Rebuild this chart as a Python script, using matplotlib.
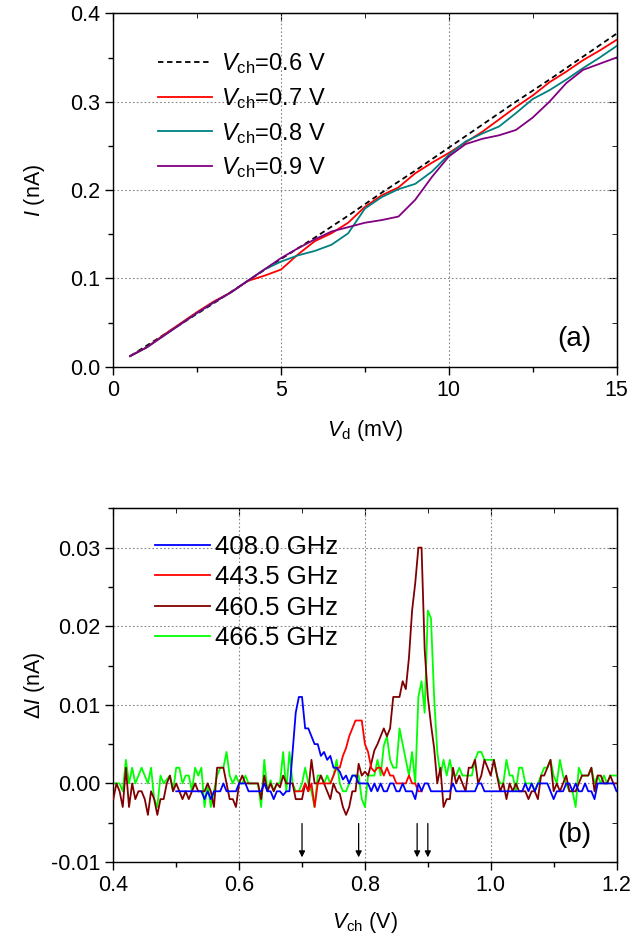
import matplotlib
matplotlib.use("Agg")
import matplotlib.pyplot as plt
import numpy as np
from matplotlib.ticker import MultipleLocator, FormatStrFormatter

plt.rcParams['font.family'] = ['Liberation Sans', 'DejaVu Sans']
plt.rcParams['mathtext.fontset'] = 'custom'
plt.rcParams['mathtext.rm'] = 'Liberation Sans'
plt.rcParams['mathtext.it'] = 'Liberation Sans:italic'
plt.rcParams['axes.unicode_minus'] = False

# ---- panel (a): I-V curves ----
vd_dash = [0.5, 1, 2, 3, 4, 5, 6, 7, 8, 9, 10, 11, 12, 13, 14, 15]
i_06 = [0.012, 0.024, 0.048, 0.072, 0.097, 0.122, 0.146, 0.171, 0.197, 0.222,
        0.248, 0.274, 0.300, 0.325, 0.351, 0.377]

vd = [0.5, 1, 1.5, 2, 2.5, 3, 3.5, 4, 4.5, 5, 5.5, 6, 6.5, 7, 7.5,
      8, 8.5, 9, 9.5, 10, 10.5, 11, 11.5, 12, 12.5, 13, 13.5, 14, 14.5, 15]
i_07 = [0.012, 0.022, 0.036, 0.049, 0.062, 0.074, 0.084, 0.097, 0.103, 0.110,
        0.127, 0.142, 0.151, 0.163, 0.181, 0.194, 0.203, 0.219, 0.231, 0.242,
        0.254, 0.266, 0.280, 0.294, 0.307, 0.322, 0.334, 0.347, 0.358, 0.370]
i_08 = [0.012, 0.022, 0.035, 0.048, 0.061, 0.073, 0.084, 0.097, 0.110, 0.119,
        0.126, 0.131, 0.138, 0.151, 0.179, 0.192, 0.201, 0.207, 0.221, 0.240,
        0.255, 0.264, 0.272, 0.287, 0.303, 0.313, 0.325, 0.338, 0.350, 0.363]
i_09 = [0.012, 0.022, 0.035, 0.048, 0.061, 0.073, 0.084, 0.097, 0.110, 0.123,
        0.134, 0.144, 0.153, 0.158, 0.163, 0.166, 0.170, 0.189, 0.215, 0.238,
        0.252, 0.258, 0.262, 0.268, 0.282, 0.300, 0.321, 0.336, 0.343, 0.350]

# ---- panel (b): photoresponse, values in pA ----
vch_full = [0.400, 0.405, 0.410, 0.415, 0.420, 0.425, 0.430, 0.435, 0.440, 0.445,
            0.450, 0.455, 0.460, 0.465, 0.470, 0.475, 0.480, 0.485, 0.490, 0.495,
            0.500, 0.505, 0.510, 0.515, 0.520, 0.525, 0.530, 0.535, 0.540, 0.545,
            0.550, 0.555, 0.560, 0.565, 0.570, 0.575, 0.580, 0.585, 0.590, 0.595,
            0.600, 0.605, 0.610, 0.615, 0.620, 0.625, 0.630, 0.635, 0.640, 0.645,
            0.650, 0.655, 0.660, 0.665, 0.670, 0.675, 0.680, 0.685, 0.690, 0.695,
            0.700, 0.705, 0.710, 0.715, 0.720, 0.725, 0.730, 0.735, 0.740, 0.745,
            0.750, 0.755, 0.760, 0.765, 0.770, 0.775, 0.780, 0.785, 0.790, 0.795,
            0.800, 0.805, 0.810, 0.815, 0.820, 0.825, 0.830, 0.835, 0.840, 0.845,
            0.850, 0.855, 0.860, 0.865, 0.870, 0.875, 0.880, 0.885, 0.890, 0.895,
            0.900, 0.905, 0.910, 0.915, 0.920, 0.925, 0.930, 0.935, 0.940, 0.945,
            0.950, 0.955, 0.960, 0.965, 0.970, 0.975, 0.980, 0.985, 0.990, 0.995,
            1.000, 1.005, 1.010, 1.015, 1.020, 1.025, 1.030, 1.035, 1.040, 1.045,
            1.050, 1.055, 1.060, 1.065, 1.070, 1.075, 1.080, 1.085, 1.090, 1.095,
            1.100, 1.105, 1.110, 1.115, 1.120, 1.125, 1.130, 1.135, 1.140, 1.145,
            1.150, 1.155, 1.160, 1.165, 1.170, 1.175, 1.180, 1.185, 1.190, 1.195,
            1.200]

# 408.0 GHz: measured from 0.500 V
di_408 = [-1, -1, -1, -1, -1, -1, -1, -1, -1, -2,
          -1, -2, -1, -1, -1, 0, -1, -1, -1, -1,
          0, 0, 0, -1, -1, -1, -1, -1, 0, -1,
          -1, -2, -1, -1, -1.5, -1, -1, 4, 9, 11,
          11, 7, 7, 6, 5, 5, 3.5, 4, 3, 3.5,
          2, 2, 1.5, 0.5, 1, 0, 1, 1, 0, 0,
          0, 0, -1, 0, -1, 0, -1, -1, 0, 0,
          -1, -1, 0, -1, -1, -1, -2, 0, -1, 0,
          0, -1, -1, -1, -1, -1, -1, -1, 0, -1,
          -1, -1, -1, -1, -1, -1, 0, 0, -1, -1,
          -1, -1, -1, -1, -1, -1, -1, -1, -1, -1,
          -1, 0, -1, 0, -1, 0, 0, 0, 0, -1,
          -2, -1, -1, -1, 0, 0, -1, 0, -1, -1,
          0, -1, -1, -2, 0, 0, 0, 0, 0, 0,
          -1]

# 443.5 GHz: measured from 0.690 V to 0.890 V
di_443 = [-1, -1, -1, 0, -1, 0, -3, 0, 0, 0,
          0, 0, 1, 2, 2, 3.5, 4.5, 6, 7, 8,
          8, 8, 5, 4, 2, 1.5, 2, 2, 1, 2,
          1, 1, 0, 0, 0, 0, 1, 0, 0, -1,
          -1]

di_460 = [-2, 0, -1, -3, 2, -3, 0, -2, -1, -1,
          -2, -4, -1, -2, -4, -2, -2, 0, 1, -1,
          0, -1, -2, -1, -2, -1, 0, -1, -1, -1,
          0, -1, -3, 2, 2, 2, 0, -2, -2, -3,
          0, 1, 0, 0, 0, 0, 0, -2, 1, -1,
          0, -1, 0, -0.5, 1, 0, 0, 0, -2, -2,
          -2, 0, -1, 3, 0, 0, 1, 0, -1, -2,
          0, -1, -1.3, -3, -4, -3, -1, -1, 2.5, 1,
          1.5, 1, 2.5, 4.2, 5, 6, 7, 6, 7, 11,
          11, 11, 13, 12, 16, 22, 25.5, 30, 30, 17,
          11, 7.5, 4.5, 0, 2, -3, -2, -2, 2, 0,
          1, 0, -1, 2, 2, 3, 0, 1, 3, 2,
          1, 3, 1, -1, 0, -2, 0, -1, 0, -1,
          -1, -1, -2, -1, -1, -2, 1, 1, 2, 3,
          -1, 0, -1, 0, 1, -1, -1, -1, 0, 1,
          1, 1, 2, -1, 1, 1, 0, 0, 1, 0,
          0]

di_466 = [0, 0, 0, -1, 3, 0, 2, 0, 1, 2,
          1, 0, 2, -2, -3, 1, 0, 0.5, 1, -1,
          2, 2, 0, 1, 1, -1, 2, 1, 2, -3,
          0, -3, -1, 1, 2, 2, 4, 1, 0, 1,
          0, 0, 1, 0, 0, 0, 0, -3, 3, -1,
          0.4, -1, 0, 0, 4, -1, 4, 0, -1, -1,
          0, 2, 0, -1, -3, 1, 1, 0, 1, 0,
          1, 3, 0, -1, -1, 0, 1, 1, 1, -2,
          -3, 1, 1, 1, 3, 1, 4.8, 6, 3, 2,
          2, 7, 5, 3, 1, 4, 0, 11, 13, 9,
          22, 21, 11, 4, 1, 3, 1, 3, 1, 1,
          2, 1, 1, 1, 1, 3, 4, 4, 3, 3,
          3, 3, 1, 0, 0, 3, 1, 1, -1, 2,
          2, 0, 0, 0, -1, 0, 1, 2, 2, 3,
          1, 0, 3, 1, 0, -1, -1, -3, 2, 1,
          1, 1, 2, 0, 1, 0, 1, 0, 1, 1,
          1]

arrow_v = [0.70, 0.79, 0.883, 0.90]

fig = plt.figure(figsize=(6.33, 9.42), dpi=100)
ax1 = fig.add_axes([0.179, 0.6107, 0.795, 0.3751])
ax2 = fig.add_axes([0.179, 0.0849, 0.795, 0.3755])

FS = 15.5


def style_axes(ax, xmaj, xmin, ymaj, ymin):
    ax.xaxis.set_major_locator(MultipleLocator(xmaj))
    ax.xaxis.set_minor_locator(MultipleLocator(xmin))
    ax.yaxis.set_major_locator(MultipleLocator(ymaj))
    ax.yaxis.set_minor_locator(MultipleLocator(ymin))
    ax.tick_params(which='major', direction='out', length=6, width=1, labelsize=FS)
    ax.tick_params(which='minor', direction='out', length=3.5, width=1)
    ax.grid(True, which='major', linestyle=(0, (1.5, 2)), color='#888888', lw=0.8)
    for s in ax.spines.values():
        s.set_linewidth(1.0)
    # mirrored inward ticks on top and right
    top = ax.secondary_xaxis('top')
    top.xaxis.set_major_locator(MultipleLocator(xmaj))
    top.xaxis.set_minor_locator(MultipleLocator(xmin))
    top.tick_params(which='major', direction='in', length=6, labeltop=False)
    top.tick_params(which='minor', direction='in', length=3.5)
    right = ax.secondary_yaxis('right')
    right.yaxis.set_major_locator(MultipleLocator(ymaj))
    right.yaxis.set_minor_locator(MultipleLocator(ymin))
    right.tick_params(which='major', direction='in', length=6, labelright=False)
    right.tick_params(which='minor', direction='in', length=3.5)


# panel (a)
ax1.plot(vd_dash, i_06, color='black', ls=(0, (3, 2)), lw=1.3, label=r'$V_{\rm ch}$=0.6 V')
ax1.plot(vd, i_07, color='#ff0000', lw=1.3, label=r'$V_{\rm ch}$=0.7 V')
ax1.plot(vd, i_08, color='#008080', lw=1.3, label=r'$V_{\rm ch}$=0.8 V')
ax1.plot(vd, i_09, color='#800080', lw=1.3, label=r'$V_{\rm ch}$=0.9 V')
ax1.set_xlim(0, 15)
ax1.set_ylim(0, 0.4)
style_axes(ax1, 5, 2.5, 0.1, 0.05)
ax1.yaxis.set_major_formatter(FormatStrFormatter('%.1f'))
ax1.set_xlabel(r'$V_{\rm d}$ (mV)', fontsize=FS, labelpad=12)
ax1.set_ylabel(r'$I$ (nA)', fontsize=FS)
ax1.yaxis.set_label_coords(-0.131, 0.5)
ax1.legend(loc='upper left', bbox_to_anchor=(0.07, 0.92), frameon=False,
           fontsize=17, handlelength=2.3, handletextpad=0.35, labelspacing=0.42,
           borderaxespad=0)
ax1.text(0.916, 0.078, '(a)', transform=ax1.transAxes, fontsize=20,
         ha='center', va='center')

# panel (b)
n408 = len(di_408)
n443 = len(di_443)
ax2.plot(vch_full[-n408:], np.array(di_408) / 1000, color='#0000ff', lw=1.3, label='408.0 GHz', zorder=5)
ax2.plot(vch_full[58:58 + n443], np.array(di_443) / 1000, color='#ff0000', lw=1.3, label='443.5 GHz', zorder=4)
ax2.plot(vch_full, np.array(di_460) / 1000, color='#800000', lw=1.3, label='460.5 GHz', zorder=3)
ax2.plot(vch_full, np.array(di_466) / 1000, color='#00ff00', lw=1.3, label='466.5 GHz', zorder=2)
ax2.set_xlim(0.4, 1.2)
ax2.set_ylim(-0.01, 0.035)
style_axes(ax2, 0.2, 0.1, 0.01, 0.005)
ax2.xaxis.set_major_formatter(FormatStrFormatter('%.1f'))
ax2.yaxis.set_major_formatter(FormatStrFormatter('%.2f'))
ax2.set_xlabel(r'$V_{\rm ch}$ (V)', fontsize=FS, labelpad=10)
ax2.set_ylabel(r'Δ$I$ (nA)', fontsize=FS)
ax2.yaxis.set_label_coords(-0.132, 0.5)
ax2.legend(loc='upper left', bbox_to_anchor=(0.062, 0.953), frameon=False,
           fontsize=18.5, handlelength=2.14, handletextpad=0.2, labelspacing=0.24,
           borderaxespad=0)
for v in arrow_v:
    ax2.annotate('', xy=(v, -0.0094), xytext=(v, -0.0051),
                 arrowprops=dict(arrowstyle='-|>', color='black', lw=0.9,
                                 mutation_scale=9, shrinkA=0, shrinkB=0))
ax2.text(0.916, 0.076, '(b)', transform=ax2.transAxes, fontsize=20,
         ha='center', va='center')

fig.savefig('out.png', dpi=100)
